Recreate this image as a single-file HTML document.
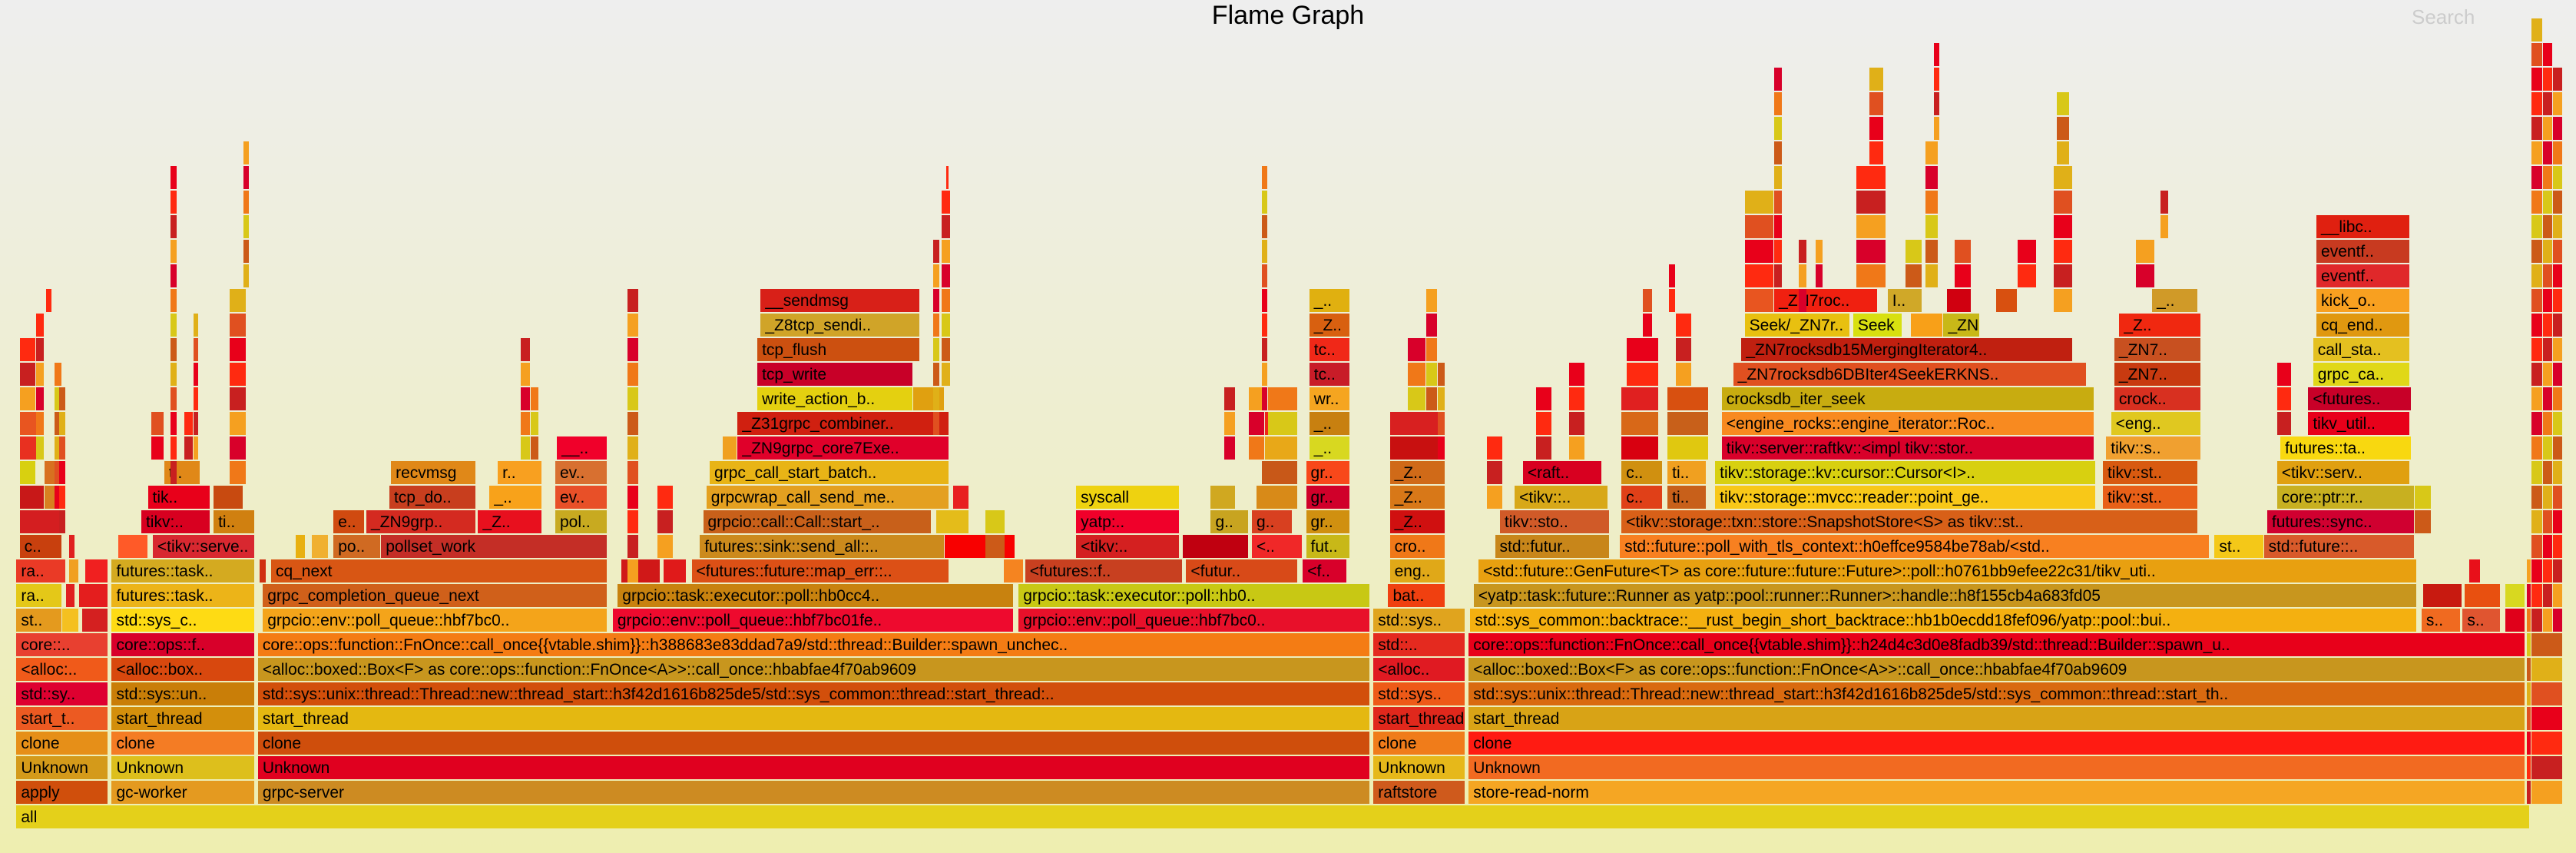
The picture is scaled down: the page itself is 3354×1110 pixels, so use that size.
<!DOCTYPE html>
<html><head><meta charset="utf-8">
<style>
html,body{margin:0;padding:0}
body{width:3354px;height:1110px;overflow:hidden;position:relative;font-family:"Liberation Sans",sans-serif;
background:linear-gradient(#eeeeee 0%,#eeeeb0 100%)}
#title{position:absolute;left:0;width:3354px;top:0;text-align:center;font-size:34px;line-height:40px;color:#000}
#search{position:absolute;left:3140px;top:2px;font-size:26px;line-height:40px;color:#cccccc}
#chart{position:absolute;left:0;top:0;width:3354px;height:1110px}
.f{position:absolute;height:30px;overflow:hidden;white-space:nowrap;font-size:21px;line-height:31px;color:#000;box-sizing:border-box;padding-left:6px}
</style></head>
<body>
<div id="title">Flame Graph</div>
<div id="search">Search</div>
<div id="chart"></div>
<script>
// frames: [depth, startSample, endSample, label, color]
const frames = [
[0,10,1540,"all","#e4d01a"],
[1,10,66,"apply","#d04f0c"],[1,68,155,"gc-worker","#e49a20"],[1,157,834,"grpc-server","#cd8b22"],[1,836,892,"raftstore","#cf5a1c"],[1,894,1537,"store-read-norm","#f5a623"],
[2,10,66,"Unknown","#d49a1a"],[2,68,155,"Unknown","#ddbf1c"],[2,157,834,"Unknown","#e0001f"],[2,836,892,"Unknown","#e6b81a"],[2,894,1537,"Unknown","#f26a21"],
[3,10,66,"clone","#e68f18"],[3,68,155,"clone","#f47c24"],[3,157,834,"clone","#cf4e0c"],[3,836,892,"clone","#f07c1a"],[3,894,1537,"clone","#ff1b12"],
[4,10,66,"start_t..","#ec5a22"],[4,68,155,"start_thread","#d38f0c"],[4,157,834,"start_thread","#e4b811"],[4,836,892,"start_thread","#e0281c"],[4,894,1537,"start_thread","#d8a316"],
[5,10,66,"std::sy..","#de0030"],[5,68,155,"std::sys::un..","#c97e08"],[5,157,834,"std::sys::unix::thread::Thread::new::thread_start::h3f42d1616b825de5/std::sys_common::thread::start_thread:..","#d24f0b"],[5,836,892,"std::sys..","#ee5a18"],[5,894,1537,"std::sys::unix::thread::Thread::new::thread_start::h3f42d1616b825de5/std::sys_common::thread::start_th..","#d96a10"],
[6,10,66,"<alloc:..","#f05a1a"],[6,68,155,"<alloc::box..","#d8480e"],[6,157,834,"<alloc::boxed::Box<F> as core::ops::function::FnOnce<A>>::call_once::hbabfae4f70ab9609","#c8961e"],[6,836,892,"<alloc..","#e01a22"],[6,894,1537,"<alloc::boxed::Box<F> as core::ops::function::FnOnce<A>>::call_once::hbabfae4f70ab9609","#c8961e"],
[7,10,66,"core::..","#e84030"],[7,68,155,"core::ops::f..","#d8002a"],[7,157,834,"core::ops::function::FnOnce::call_once{{vtable.shim}}::h388683e83ddad7a9/std::thread::Builder::spawn_unchec..","#f47c14"],[7,836,892,"std::..","#e42a1f"],[7,894,1537,"core::ops::function::FnOnce::call_once{{vtable.shim}}::h24d4c3d0e8fadb39/std::thread::Builder::spawn_u..","#e8001a"],
[8,10,38,"st..","#e49a1e"],[8,38,48,"","#f4c020"],[8,50,66,"","#d42020"],[8,68,155,"std::sys_c..","#fedb14"],[8,160,370,"grpcio::env::poll_queue::hbf7bc0..","#f4a41a"],[8,373,617,"grpcio::env::poll_queue::hbf7bc01fe..","#ee0a2e"],[8,620,834,"grpcio::env::poll_queue::hbf7bc0..","#e8102a"],[8,836,892,"std::sys..","#e0a41e"],[8,895,1471,"std::sys_common::backtrace::__rust_begin_short_backtrace::hb1b0ecdd18fef096/yatp::pool::bui..","#f4b010"],[8,1474,1498,"s..","#f06a20"],[8,1499,1522,"s..","#e05530"],[8,1525,1537,"","#e0001a"],
[9,10,38,"ra..","#e4c818"],[9,40,46,"","#e02020"],[9,48,66,"","#e41e1e"],[9,68,155,"futures::task..","#ecb418"],[9,160,370,"grpc_completion_queue_next","#d0601a"],[9,376,617,"grpcio::task::executor::poll::hb0cc4..","#c8820f"],[9,620,834,"grpcio::task::executor::poll::hb0..","#c8c814"],[9,845,880,"bat..","#f04010"],[9,897,1471,"<yatp::task::future::Runner as yatp::pool::runner::Runner>::handle::h8f155cb4a683fd05","#c8961e"],[9,1475,1499,"","#c81a10"],[9,1500,1522,"","#e85010"],[9,1525,1537,"","#d8d820"],
[10,10,40,"ra..","#ea3a26"],[10,42,48,"","#f0a020"],[10,52,66,"","#f02020"],[10,68,155,"futures::task..","#d4aa20"],[10,158,162,"","#d03010"],[10,165,370,"cq_next","#d85614"],[10,378,402,"","#d01818"],[10,404,418,"","#e01a1a"],[10,421,578,"<futures::future::map_err::..","#dc5016"],[10,611,623,"","#f58420"],[10,624,720,"<futures::f..","#c84020"],[10,722,790,"<futur..","#d84a18"],[10,793,820,"<f..","#d8002a"],[10,846,880,"eng..","#e0a818"],[10,900,1471,"<std::future::GenFuture<T> as core::future::future::Future>::poll::h0761bb9efee22c31/tikv_uti..","#e8a010"],[10,1503,1510,"","#e8101a"],
[11,12,38,"c..","#c8400e"],[11,42,46,"","#e02020"],[11,72,90,"","#ff5a28"],[11,93,155,"<tikv::serve..","#d82830"],[11,180,186,"","#e8b010"],[11,190,200,"","#f0b030"],[11,203,232,"po..","#d06a22"],[11,232,370,"pollset_work","#c42e26"],[11,426,575,"futures::sink::send_all::..","#cc8a1c"],[11,575,618,"","#f80000"],[11,655,718,"<tikv:..","#d42020"],[11,720,760,"","#c00010"],[11,762,793,"<..","#f02828"],[11,795,822,"fut..","#c8b818"],[11,846,880,"cro..","#f07818"],[11,910,980,"std::futur..","#c8861a"],[11,986,1345,"std::future::poll_with_tls_context::h0effce9584be78ab/<std..","#f88020"],[11,1348,1378,"st..","#f4c818"],[11,1378,1470,"std::future::..","#d85a2a"],
[12,12,38,"","#d41e20"],[12,86,128,"tikv:..","#d80020"],[12,130,155,"ti..","#d08010"],[12,203,222,"e..","#d04a10"],[12,223,290,"_ZN9grp..","#d42a20"],[12,291,330,"_Z..","#e8101e"],[12,338,370,"pol..","#c8aa20"],[12,428,567,"grpcio::call::Call::start_..","#c8601a"],[12,570,590,"","#e4bc1a"],[12,655,718,"yatp:..","#f0002a"],[12,737,760,"g..","#c8a420"],[12,762,787,"g..","#d84020"],[12,795,822,"gr..","#d09010"],[12,846,880,"_Z..","#d01010"],[12,913,980,"tikv::sto..","#d05a28"],[12,987,1338,"<tikv::storage::txn::store::SnapshotStore<S> as tikv::st..","#d86018"],[12,1380,1470,"futures::sync..","#d00030"],
[13,12,27,"","#c81818"],[13,27,38,"","#d88020"],[13,90,128,"tik..","#e8001a"],[13,130,148,"","#c84a10"],[13,237,290,"tcp_do..","#c83e1e"],[13,298,330,"_..","#f8a21a"],[13,338,370,"ev..","#e85028"],[13,430,578,"grpcwrap_call_send_me..","#e4a020"],[13,580,590,"","#e82020"],[13,655,718,"syscall","#eed210"],[13,737,752,"","#d0a820"],[13,765,790,"","#d88a18"],[13,795,822,"gr..","#d0002a"],[13,846,880,"_Z..","#d87818"],[13,922,979,"<tikv::..","#d8a818"],[13,987,1012,"c..","#e04018"],[13,1015,1039,"ti..","#c8601a"],[13,1044,1276,"tikv::storage::mvcc::reader::point_ge..","#f8c818"],[13,1280,1338,"tikv::st..","#e86018"],[13,1386,1470,"core::ptr::r..","#c8b020"],
[14,12,22,"","#d8d010"],[14,27,38,"","#d87020"],[14,100,122,"t..","#e08818"],[14,238,290,"recvmsg","#e08818"],[14,303,330,"r..","#f8a020"],[14,338,370,"ev..","#d87030"],[14,432,578,"grpc_call_start_batch..","#e8b416"],[14,768,790,"","#c85818"],[14,795,822,"gr..","#f8481a"],[14,846,880,"_Z..","#d06a18"],[14,927,975,"<raft..","#d80020"],[14,987,1012,"c..","#d09010"],[14,1015,1039,"ti..","#f0a020"],[14,1044,1276,"tikv::storage::kv::cursor::Cursor<I>..","#d8d010"],[14,1280,1338,"tikv::st..","#d85a10"],[14,1386,1467,"<tikv::serv..","#e0a010"],
[15,12,27,"","#e83020"],[15,339,370,"__..","#f0002a"],[15,440,449,"","#f0a020"],[15,449,578,"_ZN9grpc_core7Exe..","#e0002a"],[15,770,790,"","#e8a818"],[15,797,822,"_..","#d8d820"],[15,846,880,"","#c81010"],[15,987,1010,"","#d80010"],[15,1015,1040,"","#e0c810"],[15,1048,1275,"tikv::server::raftkv::<impl tikv::stor..","#d8002a"],[15,1282,1340,"tikv::s..","#f0a030"],[15,1388,1468,"futures::ta..","#f8d810"],
[16,12,27,"","#e85520"],[16,449,578,"_Z31grpc_combiner..","#d02010"],[16,770,790,"","#f02818"],[16,797,822,"_..","#c88010"],[16,846,880,"","#d82020"],[16,987,1010,"","#d86818"],[16,1015,1040,"","#c8601a"],[16,1048,1275,"<engine_rocks::engine_iterator::Roc..","#f88a20"],[16,1285,1340,"<eng..","#e0c820"],[16,1405,1467,"tikv_util..","#e8001a"],
[17,461,556,"write_action_b..","#e4d010"],[17,556,575,"","#e0a010"],[17,797,822,"wr..","#f5a520"],[17,987,1010,"","#e02020"],[17,1015,1040,"","#d85010"],[17,1048,1275,"crocksdb_iter_seek","#c8ac10"],[17,1287,1340,"crock..","#d83020"],[17,1405,1468,"<futures..","#c80028"],
[18,461,556,"tcp_write","#c80028"],[18,797,822,"tc..","#c81c28"],[18,1055,1270,"_ZN7rocksdb6DBIter4SeekERKNS..","#e05020"],[18,1287,1340,"_ZN7..","#c83a10"],[18,1408,1467,"grpc_ca..","#e0d818"],
[19,461,560,"tcp_flush","#cc5010"],[19,797,822,"tc..","#f02818"],[19,1060,1262,"_ZN7rocksdb15MergingIterator4..","#c02010"],[19,1287,1340,"_ZN7..","#c85020"],[19,1408,1467,"call_sta..","#e4c020"],
[20,463,560,"_Z8tcp_sendi..","#d0a428"],[20,797,822,"_Z..","#d86010"],[20,1062,1126,"Seek/_ZN7r..","#e8c010"],[20,1128,1158,"Seek","#d8e010"],[20,1163,1183,"","#f8a018"],[20,1183,1205,"_ZN7..","#c8b818"],[20,1290,1340,"_Z..","#f02810"],[20,1410,1467,"cq_end..","#e09810"],
[21,463,560,"__sendmsg","#d82018"],[21,797,822,"_..","#e0b010"],[21,1062,1080,"","#e85520"],[21,1080,1143,"_ZN7roc..","#f02010"],[21,1149,1170,"I..","#d0a828"],[21,1185,1200,"","#d00010"],[21,1215,1228,"","#d85010"],[21,1310,1338,"_..","#d09a28"],[21,1410,1467,"kick_o..","#f8a020"],
[22,1410,1467,"eventf..","#e0282a"],
[23,1410,1467,"eventf..","#c83a20"],
[24,1410,1467,"__libc..","#e02010"]
];
// spikes: [startSample, endSample, fromDepth, toDepth]
const spikes = [
[12,22,17,19],[22,27,15,20],[28,32,21,21],[33,38,13,18],[36,40,12,17],
[92,100,15,16],[104,108,14,26],[112,118,15,16],[118,121,15,20],[140,150,14,21],[148,152,22,27],
[317,323,15,19],[323,328,15,17],[382,389,10,21],[400,410,11,13],
[568,572,16,23],[573,579,18,25],[576,578,26,26],[600,612,11,12],
[745,752,15,17],[760,770,15,17],[768,772,17,26],[772,790,16,17],
[857,868,17,19],[868,875,17,21],[875,880,15,18],
[905,915,13,15],[935,945,15,17],[955,965,15,18],[990,1010,18,19],[1000,1006,20,21],[1020,1030,18,20],[1016,1020,21,22],
[1062,1080,22,25],[1080,1085,22,30],[1095,1100,21,23],[1105,1110,22,23],[1130,1148,22,26],[1138,1147,27,30],
[1160,1170,22,23],[1172,1180,22,27],[1177,1181,28,31],[1190,1200,22,23],
[1228,1240,22,23],[1250,1262,21,26],[1252,1260,27,29],[1300,1312,22,23],[1315,1320,24,25],
[1386,1395,16,18],[1470,1480,12,13],
[1541,1548,8,32],[1548,1554,8,31],[1554,1560,8,30],[1538,1541,1,10],[1541,1560,1,7]
];
const palette = ["#e8001a","#f5a020","#d8c818","#e05020","#c82020","#f07818","#e0b018","#ff2a10","#d8002a","#cc5a18"];

const SCALE = 3354/1568;
function xPos(v){ return v*SCALE; }
function yTop(depth){ return 1048 - 32*depth; }
const chart = document.getElementById('chart');

function addFrame(depth, s, e, label, color){
  const d = document.createElement('div');
  d.className = 'f';
  
  
  const x0 = xPos(s), x1 = xPos(e);
  d.style.left = x0 + 'px';
  d.style.top = yTop(depth) + 'px';
  d.style.width = Math.max(1, x1 - x0 - 1) + 'px';
  d.style.background = color;
  if ((x1 - x0) < 20) d.style.paddingLeft = '0';
  d.textContent = label;
  chart.appendChild(d);
}
frames.forEach(f => addFrame(f[0], f[1], f[2], f[3], f[4]));
spikes.forEach((sp, i) => {
  for (let dpt = sp[2]; dpt <= sp[3]; dpt++) {
    const c = palette[(i*7 + dpt*3) % palette.length];
    addFrame(dpt, sp[0], sp[1], "", c);
  }
});
</script>
</body></html>
